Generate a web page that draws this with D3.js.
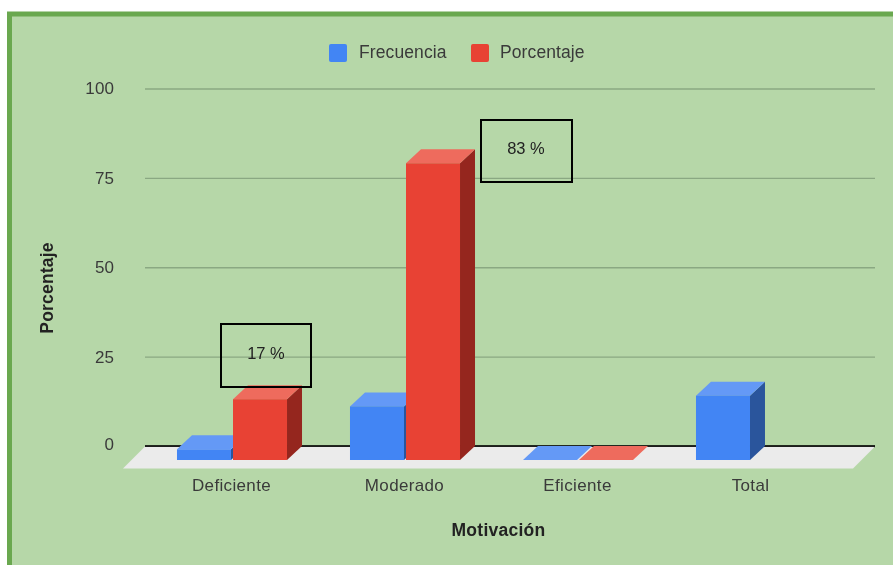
<!DOCTYPE html>
<html><head><meta charset="utf-8">
<script src="https://cdn.jsdelivr.net/npm/d3@7"></script>
<style>
html,body{margin:0;padding:0;background:#fff;overflow:hidden}
svg{display:block;filter:blur(0.45px)}
text{font-family:"Liberation Sans",Arial,sans-serif}
</style></head><body>
<svg id="c" width="893" height="565"></svg>
<script>
const categories = ["Deficiente","Moderado","Eficiente","Total"];
const seriesNames = ["Frecuencia","Porcentaje"];
const frecuencia = [3,15,0,18];
const porcentaje = [17,83,0,null];
const yTicks = [0,25,50,75,100];
const notes = [{label:"17 %"},{label:"83 %"}];
const faces = {
  Frecuencia:{front:"#4285f4",top:"#6499f6",side:"#2a559c"},
  Porcentaje:{front:"#e84234",top:"#ee6b5d",side:"#95261e"}
};
const DX=15, DY=14;
const svg=d3.select("#c");
svg.append("rect").attr("x",9.5).attr("y",14).attr("width",900).attr("height",570)
  .attr("fill","#b6d7a8").attr("stroke","#6aa84f").attr("stroke-width",5);

const y=d3.scaleLinear().domain([0,100]).range([446,88.5]);
const x0=d3.scaleBand().domain(categories).range([145.5,837.5]).paddingInner(.364).paddingOuter(.182);
const x1=d3.scaleBand().domain(seriesNames).range([0,x0.bandwidth()]).paddingInner(.036);

// gridlines + value axis
const yAxis=svg.append("g").attr("transform","translate(145,0)")
  .call(d3.axisLeft(y).tickValues(yTicks).tickSize(0).tickPadding(31));
yAxis.select(".domain").remove();
yAxis.selectAll("text").attr("font-size",17).attr("letter-spacing",0.1).attr("fill","#3a3a3a").style("font-family",'"Liberation Sans",Arial,sans-serif');
yAxis.selectAll("g.tick").append("line").attr("x1",0).attr("x2",730)
  .attr("stroke",d=>d===0?"#000":"#8aa882").attr("stroke-width",d=>d===0?1.6:1.4);
yAxis.selectAll("g.tick").filter(d=>d===0).select("text").attr("dy","0.22em");

// floor
svg.append("polygon").attr("fill","#ebebeb")
  .attr("points",[[145,446.5],[875,446.5],[853,468.5],[123,468.5]].join(" "));
svg.append("line").attr("x1",145).attr("x2",875).attr("y1",446).attr("y2",446).attr("stroke","#000").attr("stroke-width",1.6);

// 3D bars
const rows=[];
categories.forEach((c,i)=>{
  [["Frecuencia",frecuencia[i]],["Porcentaje",porcentaje[i]]].forEach(([s,v])=>{
    if(v!==null) rows.push({c,s,v});
  });
});
const bar=svg.append("g").selectAll("g").data(rows).join("g");
const left=d=>x0(d.c)+x1(d.s), w=x1.bandwidth();
const ftop=d=>y(d.v)+DY, base=y(0)+DY;
bar.append("polygon").attr("fill",d=>faces[d.s].side)
  .attr("points",d=>[[left(d)+w,ftop(d)],[left(d)+w+DX,ftop(d)-DY],[left(d)+w+DX,base-DY],[left(d)+w,base]].join(" "));
bar.append("polygon").attr("fill",d=>faces[d.s].top)
  .attr("points",d=>[[left(d),ftop(d)],[left(d)+DX,ftop(d)-DY],[left(d)+w+DX,ftop(d)-DY],[left(d)+w,ftop(d)]].join(" "));
bar.append("rect").attr("fill",d=>faces[d.s].front)
  .attr("x",left).attr("y",ftop).attr("width",w).attr("height",d=>base-ftop(d));

// category labels
const xAxis=svg.append("g").attr("transform","translate(0,485)").call(d3.axisBottom(x0).tickSize(0).tickPadding(0));
xAxis.select(".domain").remove();
xAxis.selectAll("text").attr("font-size",17).attr("letter-spacing",0.35).attr("fill","#3a3a3a").attr("dy","0.35em").attr("y",0)
  .style("font-family",'"Liberation Sans",Arial,sans-serif');
xAxis.selectAll("g.tick").attr("transform",d=>`translate(${x0(d)+x0.bandwidth()/2-0.5},0)`);

// axis titles
svg.append("text").attr("x",498.5).attr("y",530).attr("dy","0.35em").attr("text-anchor","middle")
  .attr("font-size",17.5).attr("letter-spacing",0.25).attr("font-weight","bold").attr("fill","#222").text("Motivación");
svg.append("text").attr("transform","translate(47,288) rotate(-90)").attr("dy","0.35em").attr("text-anchor","middle")
  .attr("font-size",17.5).attr("letter-spacing",0.2).attr("font-weight","bold").attr("fill","#222").text("Porcentaje");

// legend
const legendPos=[{rx:329,tx:359},{rx:471,tx:500}];
seriesNames.forEach((s,i)=>{
  svg.append("rect").attr("x",legendPos[i].rx).attr("y",44).attr("width",18).attr("height",18).attr("rx",2).attr("fill",faces[s].front);
  svg.append("text").attr("x",legendPos[i].tx).attr("y",52).attr("dy","0.35em").attr("font-size",17.5).attr("letter-spacing",0.1).attr("fill","#3a3a3a").text(s);
});

// annotation boxes
const boxGeom=[{x:221,y:324,w:90,h:63,tx:266,ty:353},{x:481,y:120,w:91,h:62,tx:526,ty:148.5}];
notes.forEach((n,i)=>{
  const b=boxGeom[i];
  svg.append("rect").attr("x",b.x).attr("y",b.y).attr("width",b.w).attr("height",b.h).attr("fill","none").attr("stroke","#000").attr("stroke-width",2);
  svg.append("text").attr("x",b.tx).attr("y",b.ty).attr("dy","0.35em").attr("text-anchor","middle").attr("font-size",16.5).attr("fill","#222").text(n.label);
});
</script></body></html>
